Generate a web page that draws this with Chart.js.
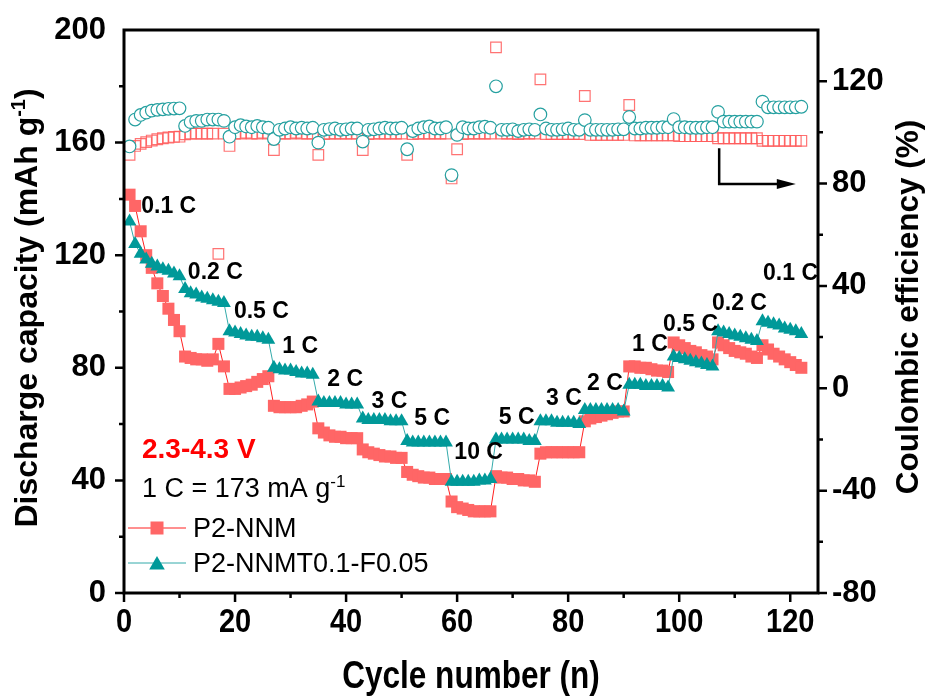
<!DOCTYPE html>
<html>
<head>
<meta charset="utf-8">
<script src="https://cdn.jsdelivr.net/npm/chart.js@4.4.1/dist/chart.umd.min.js"></script>
<style>
  html, body { margin: 0; padding: 0; background: #fff; }
</style>
</head>
<body>
<canvas id="rate-chart" width="928" height="697"></canvas>
<script>
// discharge capacity (mAh g-1), one value per cycle, cycle 1..122
const nnmCapacity = [
  141.5, 137.5, 128.5, 120, 115.5, 110, 105.5, 101, 97, 93,
  84, 83.5, 83, 83, 82.5, 83, 88.5, 80.5,
  72.5, 72.5, 73, 73.5, 74, 75, 76, 77,
  66.5, 66, 66, 66, 66, 66.5, 67, 68,
  58.5, 57, 56, 55.5, 55.5, 55, 55, 55,
  51, 50, 49.5, 49, 48.5, 48.5, 48, 48,
  43, 42, 41.5, 41, 41, 40.5, 40.5, 40.5,
  32.5, 30.5, 30, 29.5, 29, 29, 29, 29,
  41.5, 41, 41, 40.5, 40.5, 40, 40, 39.5,
  49.5, 50, 50, 50, 50, 50, 50, 50,
  61, 62, 62.5, 63, 63.5, 64, 64.5, 64.5,
  80.5, 80.5, 80, 80, 79.5, 79, 79, 78.5,
  89, 88, 87, 86, 85.5, 84.5, 84, 83,
  89, 88, 87, 86, 85.5, 85, 84, 83.5,
  88, 86.5, 85, 84, 83, 82, 81, 80
];
const nnmtfCapacity = [
  132, 124, 120.5, 118.5, 117, 116, 115, 114.5, 113.5, 112.5,
  108, 106.5, 106, 105, 104.5, 104, 103.5, 103,
  93, 92.5, 92, 91.5, 91, 91, 90.5, 90,
  80, 79.5, 79, 79, 78.5, 78, 78, 77.5,
  68, 67.5, 67.5, 67.5, 67.5, 67, 67, 67,
  62, 61.5, 61.5, 61.5, 61.5, 61, 61, 61,
  54, 53.5, 53.5, 53.5, 53.5, 53.5, 53.5, 53.5,
  39.5, 39.5, 39.5, 39.5, 39.5, 40, 40, 40.5,
  54.5, 54.5, 54.5, 54.5, 54.5, 54.5, 54, 54,
  61, 61, 61, 60.5, 60.5, 60.5, 60.5, 60,
  65, 65, 65, 65, 65, 65, 65, 64.5,
  74, 74, 74, 73.5, 73.5, 73.5, 73.5, 73,
  84, 83.5, 83, 82.5, 82, 81.5, 81, 80.5,
  93, 92.5, 92, 91.5, 91, 90.5, 90, 89.5,
  96.5, 96, 95.5, 95, 94, 93.5, 93, 92
];

// coulombic efficiency (%), same cycles
const nnmEfficiency = [
  91.2, 94.7, 95.5, 96.2, 96.8, 97.3, 97.7, 98, 98.2, 98.3,
  99.2, 99.5, 99.5, 99.5, 99.5, 99.5, 52.5, 99.5,
  94.7, 99.5, 99.5, 99.8, 99.5, 99.5, 99.8, 99.5,
  93.1, 99.5, 99.5, 99.5, 99.8, 99.5, 99.5, 99.5,
  91.2, 99.3, 99.5, 99.5, 99.5, 99.5, 99.5, 99.5,
  93.1, 99.3, 99.5, 99.5, 99.5, 99.5, 99.5, 99.5,
  91.2, 99.3, 99.5, 99.5, 99.5, 99.5, 99.5, 99.5,
  82, 93.4, 99.3, 99.5, 99.5, 99.5, 99.5, 99.5,
  133.2, 99.5, 99.5, 99.5, 99.3, 99.5, 99.5, 99.5,
  120.7, 99.3, 99.3, 99.3, 99.3, 99.3, 99.3, 99.3,
  114.2, 99, 99, 99, 99, 99, 99, 99,
  110.7, 98.8, 98.8, 98.8, 98.8, 98.8, 98.8, 98.8,
  98.8, 98.5, 98.5, 98.5, 98.5, 98.5, 98.5, 98.5,
  97.7, 97.7, 97.7, 97.7, 97.7, 97.7, 97.7, 97.7,
  96.7, 96.7, 96.7, 96.7, 96.7, 96.7, 96.7, 96.7
];
const nnmtfEfficiency = [
  94.5, 105, 106.8, 107.7, 108.5, 108.8, 109, 109.2, 109.3, 109.4,
  102.5, 104, 104.5, 104.5, 105, 105, 105, 104.5,
  98.3, 102, 102.8, 102.3, 102, 102.5, 102, 101.8,
  97.4, 101, 101.5, 102, 101.5, 101.8, 101.5, 101.8,
  96, 101, 101.3, 101.5, 101, 101.2, 101.5, 101.5,
  96.4, 101, 101.2, 101.5, 101.8, 101.5, 101.5, 101.8,
  93.4, 100.5, 101.5, 102, 102.3, 101.5, 101.5, 102,
  83.3, 99, 102, 101.5, 101.5, 102, 102.2, 101.8,
  118, 101, 101, 101.2, 100.5, 101, 101.2, 101,
  107, 101.5, 101, 101, 101.2, 101.5, 101, 101,
  104.8, 101, 101, 101, 101, 101, 101.2, 101.2,
  106, 101.5, 101.5, 101.8, 101.8, 101.8, 102, 102,
  105.2, 102, 102, 101.8, 101.8, 101.8, 102, 102,
  108, 104.2, 104.2, 104.2, 104.2, 104.2, 104.2, 104.2,
  112, 109.8, 109.8, 109.8, 109.8, 109.8, 109.8, 110
];

// axis tick values (labels shown on every other one)
const xTickValues = [0, 10, 20, 30, 40, 50, 60, 70, 80, 90, 100, 110, 120];
const leftTickValues = [0, 20, 40, 60, 80, 100, 120, 140, 160, 180, 200];
const rightTickValues = [-80, -60, -40, -20, 0, 20, 40, 60, 80, 100, 120, 140];

// C-rate annotations: text, anchor cycle, anchor capacity (left edge / baseline)
const rateLabels = ['0.1 C', '0.2 C', '0.5 C', '1 C', '2 C', '3 C', '5 C', '10 C',
                    '5 C', '3 C', '2 C', '1 C', '0.5 C', '0.2 C', '0.1 C'];
const rateLabelCycle = [3.1, 11.5, 19.8, 28.5, 36.6, 44.6, 52.3, 59.5, 67.5, 76, 83.4, 91.5, 97.1, 105.9, 115.1];
const rateLabelCapacity = [135, 111.5, 97.7, 85.3, 73.5, 65.7, 59.7, 47.6, 60, 66.8, 72.1, 86, 93.1, 100.5, 111.2];

const cycles = nnmCapacity.map((_, i) => i + 1);
const pts = arr => arr.map((v, i) => ({ x: cycles[i], y: v }));

const FONT = "'Liberation Sans', Arial, sans-serif";
const RED = '#FF6666';
const TEAL = '#009999';

// draws a run of text pieces (for superscripts), centered or left aligned
function drawRich(ctx, parts, x, y, align) {
    let total = 0;
    parts.forEach(p => { ctx.font = p.font; p.w = ctx.measureText(p.text).width; total += p.w; });
    let cx = align === 'center' ? x - total / 2 : x;
    ctx.textAlign = 'left';
    ctx.textBaseline = 'alphabetic';
    parts.forEach(p => {
        ctx.font = p.font;
        ctx.fillText(p.text, cx, y + (p.dy || 0));
        cx += p.w;
    });
}

function condensed(ctx, text, cx, cy, size, sx) {
    ctx.save();
    ctx.translate(cx, cy);
    ctx.scale(sx, 1);
    ctx.font = `bold ${size}px ${FONT}`;
    ctx.textAlign = 'center';
    ctx.textBaseline = 'middle';
    ctx.fillText(text, 0, 0);
    ctx.restore();
}

function triangle(ctx, x, y, r) {
    ctx.beginPath();
    ctx.moveTo(x, y - r);
    ctx.lineTo(x + r * 0.866, y + r / 2);
    ctx.lineTo(x - r * 0.866, y + r / 2);
    ctx.closePath();
    ctx.fill();
}

const decorations = {
    id: 'decorations',
    afterDatasetsDraw(chart) {
        const { ctx, chartArea: a, scales } = chart;
        const xs = scales.x, ys = scales.y, ys1 = scales.y1;
        ctx.save();
        ctx.fillStyle = '#000';
        ctx.strokeStyle = '#000';

        // frame
        ctx.lineWidth = 3;
        ctx.strokeRect(a.left, a.top, a.right - a.left, a.bottom - a.top);

        // tick marks (major ones carry a label, minor in between)
        ctx.lineWidth = 2.5;
        ctx.beginPath();
        leftTickValues.forEach(v => {
            if (v >= ys.max) return;
            const y = ys.getPixelForValue(v);
            const len = v % 40 === 0 ? 9 : 5;
            ctx.moveTo(a.left - len, y); ctx.lineTo(a.left, y);
        });
        rightTickValues.forEach(v => {
            if (v >= ys1.max) return;
            const y = ys1.getPixelForValue(v);
            const len = v % 40 === 0 ? 9 : 5;
            ctx.moveTo(a.right, y); ctx.lineTo(a.right + len, y);
        });
        xTickValues.forEach(v => {
            const x = xs.getPixelForValue(v);
            const len = v % 20 === 0 ? 9 : 5;
            ctx.moveTo(x, a.bottom); ctx.lineTo(x, a.bottom + len);
        });
        ctx.stroke();

        // x tick labels (narrow bold)
        xTickValues.forEach(v => {
            if (v % 20 !== 0) return;
            condensed(ctx, String(v), xs.getPixelForValue(v), 623, 33, 0.88);
        });

        // axis titles
        condensed(ctx, 'Cycle number (n)', (a.left + a.right) / 2, 678, 38, 0.83);

        ctx.save();
        ctx.translate(37, 308);
        ctx.rotate(-Math.PI / 2);
        drawRich(ctx, [
            { text: 'Discharge capacity (mAh g', font: `bold 32px ${FONT}` },
            { text: '-1', font: `bold 20px ${FONT}`, dy: -12 },
            { text: ')', font: `bold 32px ${FONT}` }
        ], 0, 0, 'center');
        ctx.restore();

        ctx.save();
        ctx.translate(918, 307);
        ctx.rotate(-Math.PI / 2);
        drawRich(ctx, [{ text: 'Coulombic efficiency (%)', font: `bold 31.5px ${FONT}` }], 0, 0, 'center');
        ctx.restore();

        // arrow pointing to the efficiency axis
        const ax = xs.getPixelForValue(107.2);
        const ay1 = ys.getPixelForValue(158);
        const ay2 = ys.getPixelForValue(145.3);
        const ax2 = xs.getPixelForValue(121);
        ctx.lineWidth = 2.5;
        ctx.beginPath();
        ctx.moveTo(ax, ay1); ctx.lineTo(ax, ay2); ctx.lineTo(ax2 - 16, ay2);
        ctx.stroke();
        ctx.beginPath();
        ctx.moveTo(ax2, ay2); ctx.lineTo(ax2 - 19, ay2 - 5); ctx.lineTo(ax2 - 19, ay2 + 5);
        ctx.closePath();
        ctx.fill();

        // C-rate labels
        ctx.font = `bold 23px ${FONT}`;
        ctx.textAlign = 'left';
        ctx.textBaseline = 'alphabetic';
        rateLabels.forEach((txt, i) => {
            ctx.fillText(txt, xs.getPixelForValue(rateLabelCycle[i]), ys.getPixelForValue(rateLabelCapacity[i]));
        });

        // voltage window and current note
        ctx.fillStyle = '#FF0000';
        ctx.font = `bold 28px ${FONT}`;
        ctx.fillText('2.3-4.3 V', a.left + 18, 458);
        ctx.fillStyle = '#000';
        drawRich(ctx, [
            { text: '1 C = 173 mA g', font: `27px ${FONT}` },
            { text: '-1', font: `17px ${FONT}`, dy: -10 }
        ], a.left + 18, 497, 'left');

        // legend
        const lx = a.left + 4, mx = a.left + 33, tx = a.left + 69;
        ctx.lineWidth = 1;
        ctx.strokeStyle = '#FF2020';
        ctx.beginPath(); ctx.moveTo(lx, 528); ctx.lineTo(lx + 58, 528); ctx.stroke();
        ctx.fillStyle = RED;
        ctx.fillRect(mx - 6.5, 528 - 6.5, 13, 13);
        ctx.strokeStyle = '#33AAAA';
        ctx.beginPath(); ctx.moveTo(lx, 563); ctx.lineTo(lx + 58, 563); ctx.stroke();
        ctx.fillStyle = TEAL;
        triangle(ctx, mx, 565, 9);
        ctx.fillStyle = '#000';
        ctx.font = `27px ${FONT}`;
        ctx.fillText('P2-NNM', tx, 537);
        ctx.fillText('P2-NNMT0.1-F0.05', tx, 572);

        ctx.restore();
    }
};

const ctx = document.getElementById('rate-chart').getContext('2d');
new Chart(ctx, {
    type: 'line',
    data: {
        datasets: [
            {
                label: 'CE P2-NNMT0.1-F0.05',
                data: pts(nnmtfEfficiency),
                yAxisID: 'y1',
                showLine: false,
                pointStyle: 'circle',
                pointRadius: 6.3,
                pointBorderWidth: 1.2,
                pointBorderColor: '#25A0A0',
                pointBackgroundColor: '#FFFFFF'
            },
            {
                label: 'CE P2-NNM',
                data: pts(nnmEfficiency),
                yAxisID: 'y1',
                showLine: false,
                pointStyle: 'rect',
                pointRadius: 7.5,
                pointBorderWidth: 1.2,
                pointBorderColor: 'rgba(255, 90, 90, 0.85)',
                pointBackgroundColor: 'rgba(255, 255, 255, 0)'
            },
            {
                label: 'P2-NNMT0.1-F0.05',
                data: pts(nnmtfCapacity),
                yAxisID: 'y',
                borderColor: '#33AAAA',
                borderWidth: 1,
                pointStyle: 'triangle',
                pointRadius: 8,
                pointBorderWidth: 0,
                pointBorderColor: TEAL,
                pointBackgroundColor: TEAL
            },
            {
                label: 'P2-NNM',
                data: pts(nnmCapacity),
                yAxisID: 'y',
                borderColor: '#FF2020',
                borderWidth: 1,
                pointStyle: 'rect',
                pointRadius: 8.5,
                pointBorderWidth: 0,
                pointBorderColor: RED,
                pointBackgroundColor: RED
            }
        ]
    },
    options: {
        responsive: false,
        animation: false,
        devicePixelRatio: 1,
        layout: { padding: { top: 30, left: 0, right: 0, bottom: 0 } },
        plugins: {
            legend: { display: false },
            tooltip: { enabled: false }
        },
        scales: {
            x: {
                type: 'linear',
                min: 0,
                max: 125,
                ticks: { display: false },
                grid: { display: false, drawTicks: false },
                border: { display: false },
                afterBuildTicks: s => { s.ticks = xTickValues.map(v => ({ value: v })); },
                afterFit: s => { s.height = 104; s.paddingLeft = 0; s.paddingRight = 0; }
            },
            y: {
                position: 'left',
                min: 0,
                max: 200,
                ticks: {
                    autoSkip: false,
                    padding: 18,
                    color: '#000',
                    font: { family: FONT, size: 31, weight: 'bold' },
                    callback: v => (v % 40 === 0 ? v : '')
                },
                grid: { display: false, drawTicks: false },
                border: { display: false },
                afterBuildTicks: s => { s.ticks = leftTickValues.map(v => ({ value: v })); },
                afterFit: s => { s.width = 124; s.paddingTop = 0; s.paddingBottom = 0; }
            },
            y1: {
                position: 'right',
                min: -80,
                max: 140,
                ticks: {
                    autoSkip: false,
                    padding: 14,
                    color: '#000',
                    font: { family: FONT, size: 31, weight: 'bold' },
                    callback: v => (v % 40 === 0 && v < 140 ? v : '')
                },
                grid: { display: false, drawTicks: false },
                border: { display: false },
                afterBuildTicks: s => { s.ticks = rightTickValues.map(v => ({ value: v })); },
                afterFit: s => { s.width = 110; s.paddingTop = 0; s.paddingBottom = 0; }
            }
        }
    },
    plugins: [decorations]
});
</script>
</body>
</html>
